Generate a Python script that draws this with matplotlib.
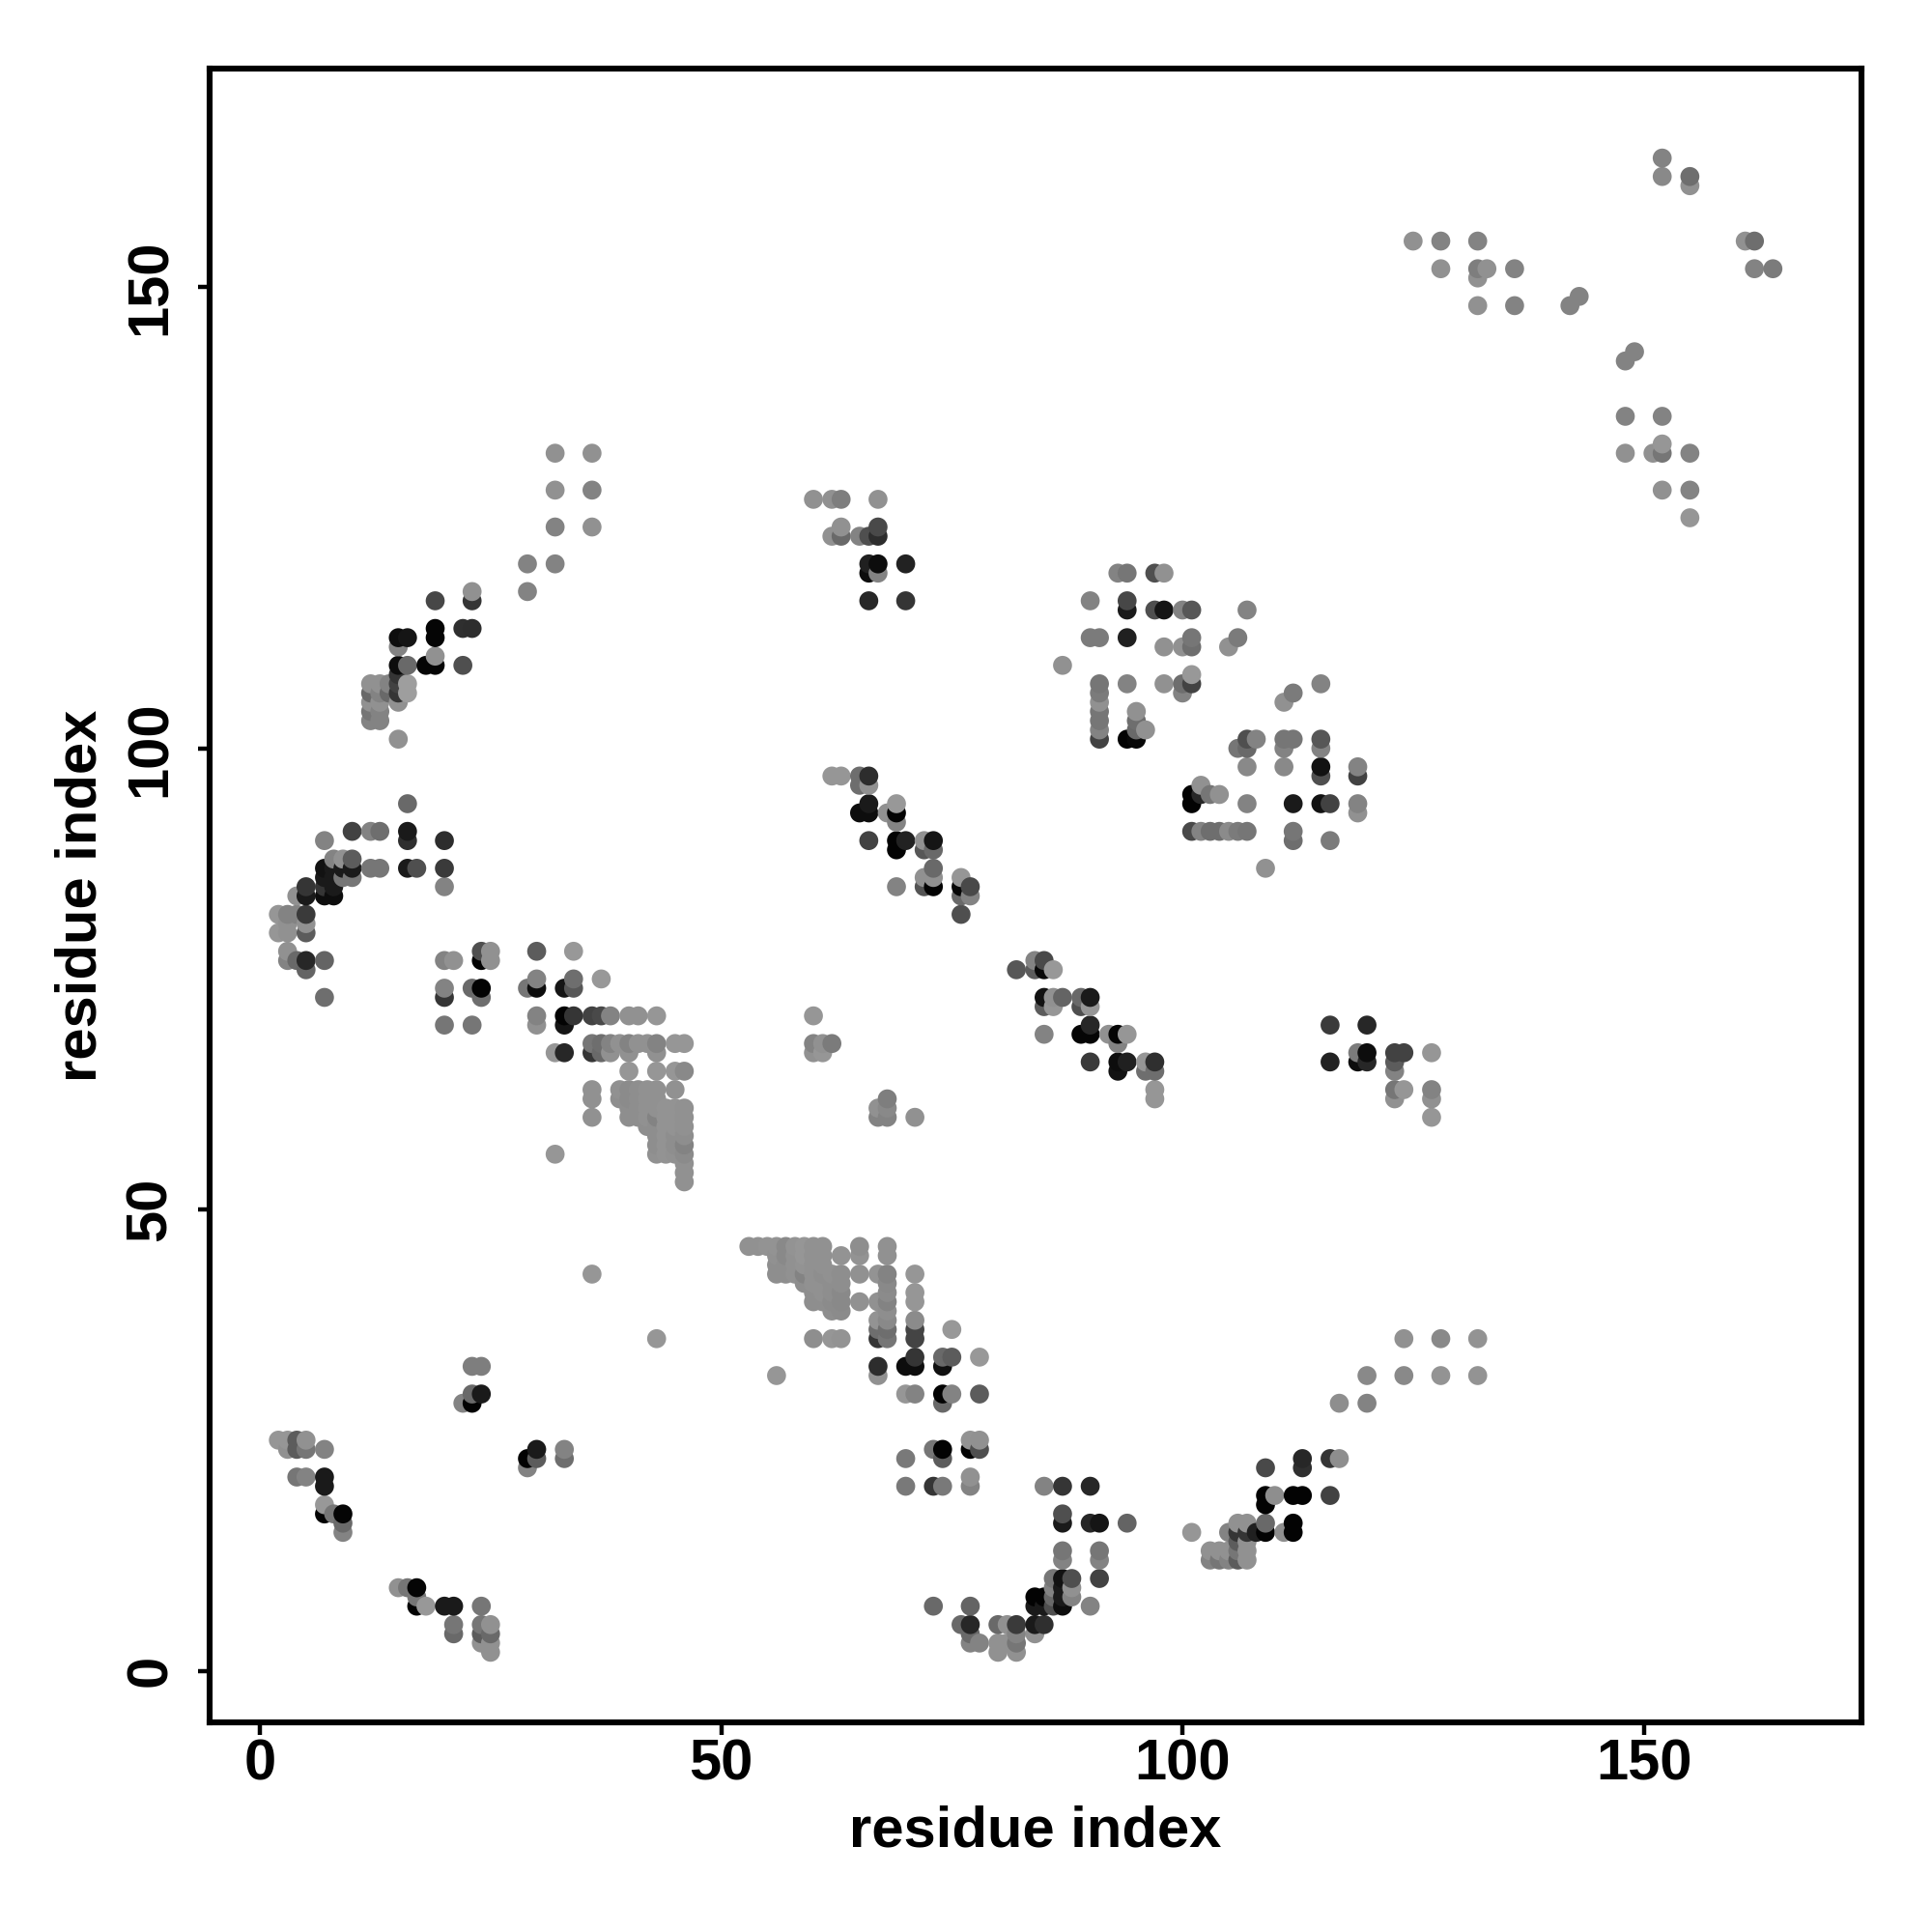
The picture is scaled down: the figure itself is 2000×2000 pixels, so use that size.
import numpy as np
import matplotlib
matplotlib.use('agg')
import matplotlib.pyplot as plt

# (residue i, residue j, gray level of the dot)
block_lower = [
    (53,46,.55),(54,46,.55),(55,46,.56),(56,46,.56),(57,46,.52),(58,46,.56),(59,46,.57),(60,46,.55),(61,46,.55),
    (56,45,.55),(57,45,.52),(58,45,.55),(59,45,.57),(60,45,.55),(61,45,.55),(63,45,.56),
    (56,44,.54),(57,44,.54),(58,44,.55),(59,44,.56),(60,44,.55),(61,44,.55),
    (56,43,.54),(57,43,.54),(58,43,.55),(59,43,.50),(60,43,.55),(61,43,.54),(62,43,.55),(63,43,.54),
    (59,42,.54),(60,42,.55),(61,42,.55),(62,42,.54),(63,42,.54),
    (60,41,.54),(61,41,.55),(62,41,.54),(63,41,.52),
    (60,40,.54),(61,40,.54),(62,40,.53),(63,40,.52),
    (62,39,.54),(63,39,.53),
    (60,36,.54),(62,36,.57),(63,36,.56),
]
helix_lower = [
    (65,46,.54),(65,45,.56),(68,46,.55),(68,45,.55),
    (65,43,.55),(67,43,.56),(68,43,.50),(71,43,.57),
    (68,42,.52),(68,41,.53),(71,41,.57),
    (65,40,.55),(67,40,.55),(68,40,.50),(71,40,.57),
    (68,39,.54),(67,38,.56),(68,38,.52),(71,38,.53),
    (67,37,.42),(68,37,.42),(71,37,.26),(75,37,.58),
    (67,36,.20),(68,36,.45),(71,36,.26),
    (71,34,.20),(74,34,.40),(75,34,.35),(78,34,.58),
    (67,33,.17),(70,33,.05),(71,33,.05),(74,33,.06),
    (67,32,.55),(56,32,.57),
    (70,30,.57),(71,30,.50),(74,30,.01),(75,30,.50),(78,30,.35),(74,29,.40),
    (77,25,.56),(78,25,.55),(73,24,.45),(74,24,.01),(77,24,.01),(78,24,.30),
    (70,23,.46),(74,23,.35),(77,21,.55),
    (70,20,.46),(73,20,.20),(74,20,.46),(77,20,.50),
]
hairpin_lower = [
    (85,20,.50),(87,20,.20),(90,20,.15),
    (87,17,.30),(87,16,.10),(90,16,.15),(91,16,.08),(94,16,.38),
    (87,13,.45),(91,13,.45),(87,12,.50),(91,12,.50),
    (86,10,.45),(87,10,.07),(88,10,.30),(91,10,.25),
    (86,9,.50),(87,9,.10),(88,9,.55),
    (84,8,.01),(85,8,.01),(86,8,.40),(87,8,.10),(88,8,.50),
    (73,7,.40),(77,7,.38),(84,7,.10),(85,7,.10),(86,7,.30),(87,7,.05),(90,7,.50),
    (76,5,.40),(77,5,.15),(80,5,.40),(81,5,.55),(82,5,.22),(84,5,.10),(85,5,.18),
    (77,4,.40),(82,4,.50),(84,4,.55),
    (77,3,.50),(78,3,.50),(80,3,.55),(81,3,.55),(82,3,.45),
    (80,2,.55),(82,2,.55),
]
sheet_lower = [
    (124,36,.55),(128,36,.52),(132,36,.56),
    (120,32,.52),(124,32,.52),(128,32,.56),(132,32,.56),
    (117,29,.54),(120,29,.50),
    (109,22,.28),(113,23,.15),(113,22,.18),(116,23,.20),(117,23,.54),
    (109,19,.01),(110,19,.54),(109,18,.01),(112,19,.01),(113,19,.01),(116,19,.25),
    (109,16,.40),(112,16,.01),(112,15,.01),(111,15,.54),(109,15,.01),(108,15,.12),
    (101,15,.57),(105,15,.50),(106,16,.55),(107,16,.55),(106,15,.20),(107,15,.20),
    (106,14,.35),(107,14,.55),(106,13,.45),(107,13,.55),(106,12,.35),(107,12,.55),
    (103,13,.55),(104,13,.55),(105,13,.55),(103,12,.50),(104,12,.45),(105,12,.50),
]
corner_lower = [
    (36,43,.57),(43,36,.57),(23,33,.48),(24,33,.48),
    (23,30,.40),(24,30,.10),(22,29,.50),(23,29,.01),
    (2,25,.57),(3,25,.57),(4,25,.35),(5,25,.55),
    (3,24,.55),(4,24,.35),(5,24,.45),(7,24,.50),
    (4,21,.45),(5,21,.50),(7,21,.10),(7,20,.10),
    (7,18,.58),(7,17,.01),(8,17,.45),(9,17,.02),(9,16,.40),(9,15,.50),
    (30,24,.10),(29,23,.01),(30,23,.35),(29,22,.50),(33,24,.50),(33,23,.42),
    (15,9,.55),(16,9,.45),(17,9,.02),(17,8,.45),(17,7,.01),(18,7,.58),(20,7,.10),(21,7,.10),(24,7,.45),
    (21,5,.45),(24,5,.45),(25,5,.55),(21,4,.40),(24,4,.35),(25,4,.40),
    (24,3,.55),(25,3,.55),(25,2,.55),
]
band_left = [
    (16,94,.40),(10,91,.25),(12,91,.50),(13,91,.42),(16,91,.10),
    (7,90,.50),(16,90,.18),(20,90,.17),
    (8,88,.50),(9,88,.55),(10,88,.35),
    (7,87,.07),(8,87,.10),(9,87,.10),(10,87,.10),(12,87,.45),(13,87,.45),(16,87,.10),(17,87,.30),(20,87,.22),
    (7,86,.10),(8,86,.10),(9,86,.45),(10,86,.45),
    (5,85,.20),(7,85,.20),(8,85,.10),(20,85,.50),
    (4,84,.55),(5,84,.10),(7,84,.05),(8,84,.05),
    (2,82,.57),(3,82,.50),(4,82,.50),(5,82,.22),
    (3,81,.55),(5,81,.55),(2,80,.57),(3,80,.55),(5,80,.35),
    (3,78,.55),(3,77,.50),(4,77,.40),(5,77,.15),(7,77,.38),(5,76,.38),(7,73,.42),
]
block_upper = [
    (24,78,.30),(25,78,.55),(30,78,.35),(34,78,.58),
    (20,77,.50),(21,77,.55),(24,77,.01),(25,77,.55),
    (37,75,.58),(30,75,.50),(34,75,.42),
    (20,74,.50),(23,74,.40),(24,74,.01),(29,74,.45),(30,74,.05),(33,74,.08),(34,74,.33),
    (20,73,.20),(24,73,.42),
    (30,71,.50),(33,71,.01),(34,71,.20),(36,71,.25),(37,71,.28),(38,71,.50),(40,71,.55),(41,71,.55),(43,71,.57),
    (20,70,.45),(23,70,.45),(30,70,.55),(33,70,.08),
    (36,68,.45),(37,68,.42),(38,68,.50),(39,68,.55),(40,68,.50),(41,68,.55),(42,68,.55),(43,68,.50),(45,68,.57),(46,68,.57),
    (32,67,.57),(33,67,.15),(36,67,.20),(37,67,.40),(38,67,.55),(40,67,.55),(43,67,.55),
    (40,65,.57),(43,65,.57),(45,65,.57),(46,65,.52),
    (36,63,.55),(39,63,.55),(40,63,.53),(41,63,.54),(42,63,.55),(43,63,.55),(45,63,.55),
    (36,62,.55),(39,62,.54),(40,62,.53),(41,62,.54),(42,62,.55),(43,62,.55),
    (40,61,.54),(41,61,.54),(42,61,.55),(43,61,.55),(44,61,.56),(45,61,.56),(46,61,.55),
    (36,60,.55),(40,60,.54),(41,60,.54),(42,60,.55),(43,60,.50),(44,60,.56),(45,60,.56),(46,60,.55),
    (42,59,.54),(43,59,.54),(44,59,.56),(45,59,.56),(46,59,.55),
    (43,58,.54),(44,58,.56),(45,58,.54),(46,58,.54),
    (43,57,.54),(44,57,.56),(45,57,.54),(46,57,.50),
    (32,56,.57),(43,56,.55),(44,56,.56),(45,56,.55),(46,56,.53),
    (46,55,.55),(46,54,.55),(46,53,.55),
]
hairpin_upper = [
    (12,107,.55),(13,107,.55),(14,107,.50),(12,106,.40),(13,106,.50),(14,106,.40),
    (12,105,.55),(13,105,.55),(12,104,.45),(13,104,.50),(12,103,.50),(13,103,.50),
    (15,101,.55),(15,108,.20),(15,107,.25),(16,107,.60),(15,106,.20),(16,106,.60),(15,105,.55),
    (15,112,.05),(16,112,.08),(15,111,.50),(15,109,.05),(16,109,.40),
    (18,109,.02),(19,109,.02),(19,110,.55),(22,109,.30),
    (19,113,.02),(19,112,.02),(22,113,.18),(23,113,.17),
    (19,116,.27),(23,116,.20),(23,117,.55),
    (29,117,.50),(29,120,.50),(32,120,.50),
    (32,124,.50),(36,124,.55),(32,128,.55),(36,128,.50),(32,132,.55),(36,132,.55),
]
diagonal_mid = [
    (60,127,.55),(62,127,.55),(63,127,.48),(67,127,.55),
    (63,124,.55),(67,124,.28),(62,123,.55),(63,123,.40),(65,123,.50),(66,123,.30),(67,123,.17),
    (66,120,.12),(67,120,.05),(70,120,.13),(66,119,.05),(67,119,.50),(66,116,.15),(70,116,.20),
    (62,97,.57),(63,97,.57),(65,97,.42),(66,97,.17),(65,96,.42),(66,96,.55),
    (66,94,.10),(69,94,.58),(65,93,.05),(66,93,.05),(68,93,.55),(69,93,.01),(69,92,.50),
    (66,90,.25),(69,90,.01),(70,90,.13),(72,90,.55),(73,90,.08),
    (69,89,.01),(72,89,.33),(73,89,.40),(73,87,.40),(72,86,.55),(73,86,.55),
    (69,85,.50),(72,85,.32),(73,85,.01),(76,85,.03),(77,85,.28),(76,86,.57),(76,84,.40),(77,84,.50),(76,82,.30),
    (82,76,.33),(84,77,.50),(85,77,.28),(84,76,.35),(85,76,.03),(86,76,.58),
    (85,73,.07),(86,73,.55),(87,73,.38),(89,73,.40),(90,73,.10),
    (85,72,.35),(86,72,.57),(89,72,.30),(90,72,.57),(90,70,.15),
    (85,69,.50),(89,69,.02),(90,69,.02),(92,69,.55),(93,69,.02),(94,69,.57),(93,68,.50),
    (90,66,.22),(93,66,.05),(94,66,.12),(96,66,.57),(97,66,.18),
    (93,65,.07),(96,65,.42),(97,65,.42),(97,63,.57),(97,62,.57),
    (60,71,.57),(60,68,.50),(61,68,.55),(62,68,.47),(60,67,.55),(61,67,.57),
    (68,62,.48),(67,61,.55),(68,61,.52),(67,60,.50),(68,60,.50),(71,60,.55),
    (116,70,.22),(120,70,.15),(119,67,.47),(120,67,.05),(123,67,.25),(124,67,.25),(127,67,.57),
    (116,66,.13),(119,66,.05),(120,66,.15),(123,66,.35),(123,65,.50),
    (123,63,.45),(124,63,.57),(127,63,.50),(123,62,.55),(127,62,.55),(127,60,.57),
]
cluster_upper = [
    (93,119,.50),(94,119,.45),(97,119,.30),(98,119,.55),
    (90,116,.50),(94,116,.27),(94,115,.10),(97,115,.30),(98,115,.08),(100,115,.50),(101,115,.33),(107,115,.50),
    (90,112,.47),(91,112,.47),(94,112,.12),(101,112,.45),(106,112,.47),
    (98,111,.55),(100,111,.55),(101,111,.42),(105,111,.55),(87,109,.55),
    (101,108,.58),(91,107,.45),(94,107,.50),(98,107,.55),(100,107,.42),(101,107,.25),(115,107,.50),
    (100,106,.50),(112,106,.47),(91,106,.47),(111,105,.55),(91,105,.55),
    (91,104,.45),(95,104,.55),(91,103,.45),(95,103,.42),(91,102,.50),(95,102,.40),(96,102,.55),
    (91,101,.25),(94,101,.01),(95,101,.03),
    (107,101,.30),(108,101,.50),(111,101,.45),(112,101,.45),(115,101,.33),
    (106,100,.45),(107,100,.40),(111,100,.50),(115,100,.50),
    (107,98,.52),(111,98,.52),(115,98,.07),(119,98,.50),(115,97,.30),(119,97,.25),
    (102,96,.55),(101,95,.01),(102,95,.15),(103,95,.45),(104,95,.55),
    (101,94,.01),(107,94,.50),(112,94,.10),(115,94,.07),(116,94,.25),(119,94,.50),(119,93,.55),
    (101,91,.28),(102,91,.50),(103,91,.42),(104,91,.42),(105,91,.53),(106,91,.47),(107,91,.45),(112,91,.45),
    (112,90,.42),(116,90,.47),(109,87,.55),
]
corner_upper = [
    (152,164,.50),(152,162,.52),(155,162,.42),(155,161,.55),
    (125,155,.55),(128,155,.50),(132,155,.50),(161,155,.55),(162,155,.42),
    (128,152,.55),(132,152,.48),(133,152,.55),(136,152,.50),(162,152,.50),(164,152,.47),
    (132,151,.55),(132,148,.55),(136,148,.50),(142,148,.50),(143,149,.50),
    (148,142,.50),(149,143,.50),(148,136,.50),(152,136,.50),(152,133,.57),
    (148,132,.55),(151,132,.55),(152,132,.45),(155,132,.50),
    (152,128,.55),(155,128,.50),(155,125,.57),
]
x_ticks = [0, 50, 100, 150]
y_ticks = [0, 50, 100, 150]

contacts = (block_lower + helix_lower + hairpin_lower + sheet_lower + corner_lower + band_left
            + block_upper + hairpin_upper + diagonal_mid + cluster_upper + corner_upper)
# dots overlap in residue order, later ones on top
contacts = sorted(contacts, key=lambda c: (c[0], c[1]))
res_i = np.array([c[0] for c in contacts])
res_j = np.array([c[1] for c in contacts])
gray = [str(round(c[2] * 1.03, 3)) for c in contacts]

plt.rcParams['font.family'] = ['Liberation Sans', 'DejaVu Sans']
plt.rcParams['font.weight'] = 'bold'

fig = plt.figure(figsize=(10, 10), dpi=200)
ax = fig.add_axes([217 / 2000, 1 - 1783 / 2000, 1710 / 2000, 1712 / 2000])
ax.scatter(res_i, res_j, s=50, c=gray, linewidths=0)

ax.set_xlim(-5.45, 173.6)
ax.set_ylim(-5.6, 173.7)
ax.set_xticks(x_ticks)
ax.set_yticks(y_ticks)
ax.tick_params(length=4.5, width=1.6, labelsize=21.5)
ax.tick_params(axis='x', pad=1.5)
ax.tick_params(axis='y', pad=7.5)
for lab in ax.get_yticklabels():
    lab.set_rotation(90)
    lab.set_va('center')
for s in ax.spines.values():
    s.set_linewidth(2.2)
ax.set_xlabel('residue index', fontsize=21.5, fontweight='bold', labelpad=5)
ax.set_ylabel('residue index', fontsize=21.5, fontweight='bold', labelpad=6)

plt.savefig('out.png', dpi=200)
